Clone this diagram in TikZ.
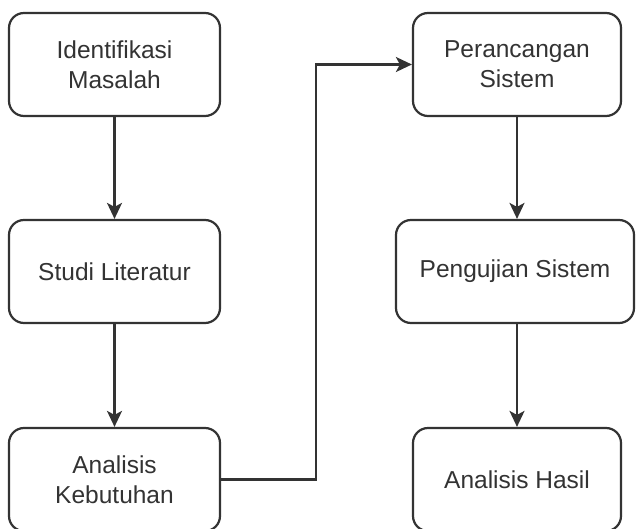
\documentclass[tikz,border=0pt]{standalone}
\usepackage{fontspec}
\setmainfont{Liberation Sans}
\usetikzlibrary{arrows.meta}
\definecolor{ink}{HTML}{333333}
\tikzset{
  stepbox/.style={draw=ink, line width=2.2pt, rounded corners=15pt, fill=white,
    minimum height=103pt, align=center, text=ink,
    font=\fontsize{24.5pt}{30pt}\selectfont},
  flow/.style={draw=ink, line width=2.2pt,
    -{Stealth[length=16pt, width=15pt, inset=4pt]}},
}
\begin{document}
\begin{tikzpicture}[x=1pt, y=-1pt]
  \useasboundingbox (0,0) rectangle (636,529);
  \clip (0,0) rectangle (636,529);
  % left column
  \node[stepbox, minimum width=211pt] (idm) at (114.5,64.5) {Identifikasi\\Masalah};
  \node[stepbox, minimum width=211pt] (stl) at (114.5,271.5) {Studi Literatur};
  \node[stepbox, minimum width=211pt] (akb) at (114.5,479.5) {Analisis\\Kebutuhan};
  % right column
  \node[stepbox, minimum width=208pt] (prs) at (517,64.5) {Perancangan\\Sistem};
  \node[stepbox, minimum width=238pt] (pgs) at (515,271.5) {Pengujian Sistem};
  \node[stepbox, minimum width=208pt] (ahs) at (517,479.5) {Analisis Hasil};
  \coordinate (bend) at (316,0);
  % connectors
  \draw[flow] (idm.south) -- (stl.north);
  \draw[flow] (stl.south) -- (akb.north);
  \draw[flow] (akb.east) -| (bend |- prs.west) -- (prs.west);
  \draw[flow] (prs.south) -- (prs.south |- pgs.north);
  \draw[flow] (ahs.north |- pgs.south) -- (ahs.north);
\end{tikzpicture}
\end{document}
